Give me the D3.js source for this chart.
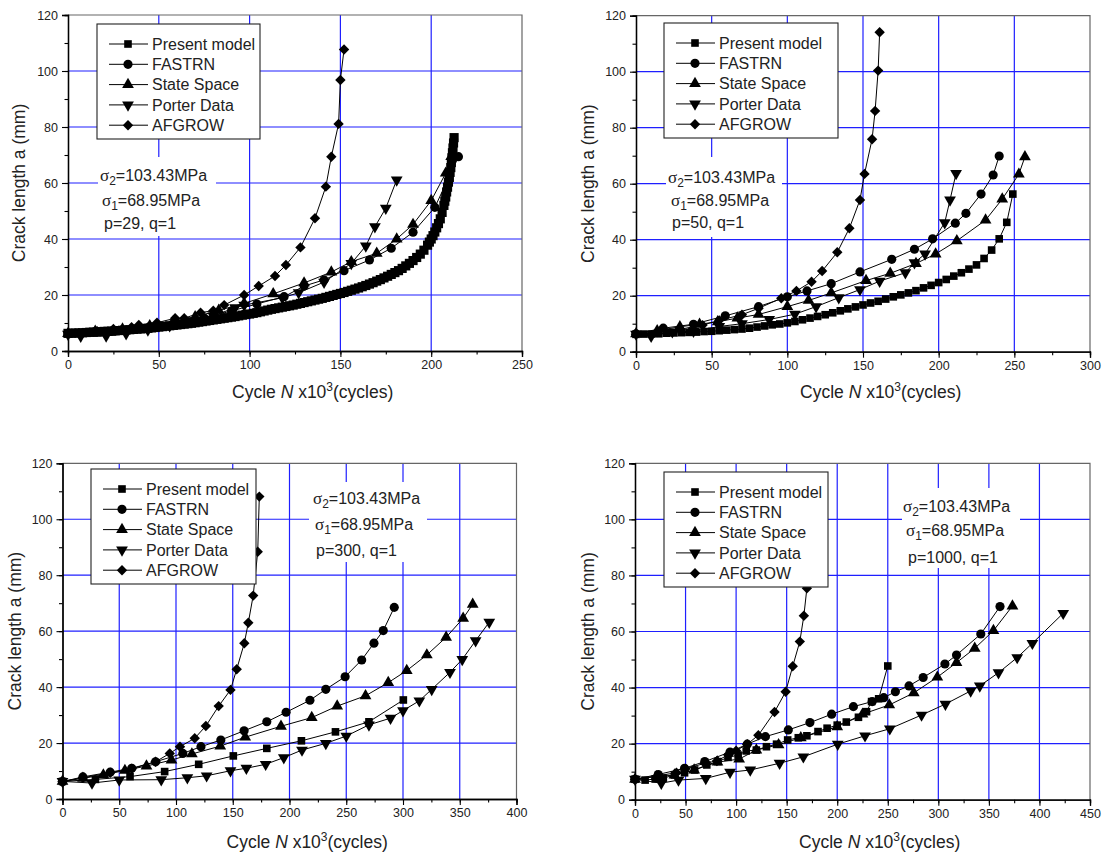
<!DOCTYPE html>
<html>
<head>
<meta charset="utf-8">
<script src="https://cdn.jsdelivr.net/npm/d3@7"></script>
<style>
  html, body { margin: 0; padding: 0; background: #fff; }
  svg { display: block; }
  text { font-family: "Liberation Sans", Arial, sans-serif; }
</style>
</head>
<body>
<svg id="chart" width="1105" height="859"></svg>
<script>
// ---- series names ----
const seriesNames = ["Present model", "FASTRN", "State Space", "Porter Data", "AFGROW"];

// ---- tick values ----
const yTicks = [0, 20, 40, 60, 80, 100, 120];
const xTicks250 = [0, 50, 100, 150, 200, 250];
const xTicks300 = [0, 50, 100, 150, 200, 250, 300];
const xTicks400 = [0, 50, 100, 150, 200, 250, 300, 350, 400];
const xTicks450 = [0, 50, 100, 150, 200, 250, 300, 350, 400, 450];

// ---- p = 29 : [N (x10^3 cycles), a (mm)] ----
const p29Present = [[0,6.3],[2,6.35],[4,6.4],[6,6.45],[8,6.5],[10,6.6],[12,6.7],[14,6.75],[16,6.8],[18,6.9],
  [20,7.0],[22,7.05],[24,7.1],[26,7.2],[28,7.3],[30,7.4],[32,7.5],[34,7.6],[36,7.7],[38,7.8],
  [40,7.9],[42,8.0],[44,8.1],[46,8.25],[48,8.4],[50,8.55],[52,8.7],[54,8.85],[56,9.0],[58,9.15],
  [60,9.3],[62,9.45],[64,9.6],[66,9.75],[68,9.9],[70,10.1],[72,10.3],[74,10.5],[76,10.7],[78,10.9],
  [80,11.1],[82,11.3],[84,11.5],[86,11.7],[88,11.9],[90,12.1],[92,12.3],[94,12.55],[96,12.8],[98,13.0],
  [100,13.2],[102,13.45],[104,13.7],[106,14.0],[108,14.3],[110,14.6],[112,14.9],[114,15.15],[116,15.4],[118,15.65],
  [120,15.9],[122,16.15],[124,16.4],[126,16.7],[128,17.0],[130,17.3],[132,17.6],[134,17.9],[136,18.2],[138,18.5],
  [140,18.8],[142,19.15],[144,19.5],[146,19.85],[148,20.2],[150,20.55],[152,20.9],[154,21.3],[156,21.7],[158,22.1],
  [160,22.5],[162,22.95],[164,23.4],[166,23.9],[168,24.4],[170,24.95],[172,25.5],[174,26.1],[176,26.7],[178,27.35],
  [180,28.0],[182,28.7],[184,29.5],[186,30.4],[188,31.3],[190,32.3],[192,33.4],[194,34.6],[196,36.0],[198,37.8],
  [199,38.9],[200,40.0],[201,41.2],[202,42.5],[203,44.0],[204,45.5],[205,47.2],[206,49.5],[207,52],[207.5,53.5],
  [208,55],[208.5,56.8],[209,58.5],[209.5,60.3],[210,62],[210.4,63.8],[210.8,65.5],[211.1,67.3],[211.4,69],[211.7,70.8],
  [212,72.5],[212.3,74.3],[212.6,76.2]];
const p29Fastrn = [[0,6.2],[15,6.8],[30,7.6],[45,8.7],[60,10.0],[75,11.8],[90,14.3],[104,16.8],[119,19.4],[130,23.2],
  [141,25.4],[152,28.7],[166,32.5],[178,36.7],[190,42.4],[202,51.3],[215,69.4]];
const p29State = [[0,6.2],[15,7.0],[30,7.8],[45,9.0],[58,10.5],[70,12.2],[83,14.5],[97,17.0],[113,20.4],[130,24.3],
  [145,28.2],[156,31.9],[170,34.9],[181,40],[190,45.2],[200,53.7],[208,63.5],[211,69.4]];
const p29Porter = [[0,6.0],[7,5.3],[21,5.4],[32,6.2],[44,7.5],[56,9.0],[68,10.8],[80,12.5],[92,15.5],[97,16.4],
  [118,19.0],[127,20.8],[141,24.6],[156,31.3],[164,37.5],[169,44.4],[175,51],[181,61.1]];
const p29Afgrow = [[1,6.3],[16,7.1],[25,7.9],[35,8.5],[39,9.3],[49,10.1],[59,11.7],[64,11.7],[73,13.7],[80,14.4],
  [86,16.4],[97,20.0],[105,23.2],[114,26.8],[120,30.7],[128,37.0],[136,47.4],[142,58.7],[145,69.4],[149,81.1],
  [150,96.8],[152,107.7]];

// ---- p = 50 ----
const p50Present = [[0,6.2],[5,6.3],[10,6.3],[15,6.4],[20,6.6],[25,6.7],[30,6.8],[35,6.9],[40,7.0],[45,7.2],
  [50,7.3],[55,7.5],[60,7.7],[65,7.9],[70,8.1],[75,8.4],[80,8.8],[85,9.2],[90,9.6],[95,9.9],
  [100,10.3],[105,10.8],[110,11.4],[115,12.0],[120,12.6],[125,13.2],[130,13.9],[135,14.6],[140,15.3],[145,16.0],
  [150,16.7],[155,17.4],[160,18.0],[165,18.8],[170,19.6],[175,20.3],[180,21.0],[185,21.8],[190,22.8],[195,23.7],
  [200,24.7],[205,25.8],[210,27.0],[215,28.2],[220,29.5],[225,31.0],[230,33.3],[235,36.3],[240,40.3],[245,46.2],
  [249,56.3]];
const p50Fastrn = [[0,6.4],[18,8.4],[38,9.8],[59,12.8],[81,16.1],[100,19.6],[113,21.7],[129,24.3],[148,28.5],[169,33],
  [184,36.6],[196,40.3],[211,45.9],[218,49.4],[228,56.3],[236,63.1],[240,69.9]];
const p50State = [[0,6.4],[14,7.5],[29,8.9],[42,9.8],[54,10.7],[67,12],[81,13.3],[100,16.1],[114,18.3],[129,21],
  [152,25.4],[168,28],[185,31.5],[198,34.9],[212,39.6],[231,47],[242,54.5],[253,63.4],[257,69.6]];
const p50Porter = [[0,6.3],[10,5.5],[24,7.1],[38,7.3],[55,9.0],[70,10.0],[88,11.5],[105,13.4],[119,16.1],[134,19.3],
  [148,22.2],[161,25.2],[178,28.2],[184,31.8],[191,34.9],[204,46.1],[207.5,54.2],[211.5,63.7]];
const p50Afgrow = [[0,6.2],[14,7.0],[29,8.0],[44,9.5],[55,11.2],[70,13.2],[81,15.5],[96,19.1],[106,21.7],[116,25],
  [123,28.8],[133,35.5],[141,44.1],[148,54.2],[151,63.5],[156,75.9],[158,86],[160,100.4],[161,114.1]];

// ---- p = 300 ----
const p300Present = [[0,6.3],[29,7.0],[59.5,8.0],[90,9.8],[120,12.4],[150.5,15.4],[180,18.1],[210.5,20.8],[240.5,24],[270,27.6],
  [300.3,35.4]];
const p300Fastrn = [[0,6.2],[18,7.9],[42,9.6],[61,11],[82,13.3],[106,16.3],[122,18.7],[139.5,21.1],[160,24.4],[180,27.6],
  [197,31],[218,35.3],[232,39.2],[249,43.7],[263.6,49.7],[274.4,55.7],[282.6,60.2],[292.3,68.5]];
const p300State = [[0,6.3],[18,7.4],[36,8.6],[55,10.2],[74,11.8],[96,13.9],[114,16.1],[139,18.9],[161,22.1],[192.5,26],
  [219.6,29.1],[242,33.2],[267,36.9],[287,41.6],[303.3,45.9],[321,51.5],[338,57.8],[353,64.6],[361.4,69.6]];
const p300Porter = [[0,6.3],[26,5.7],[50,6.8],[87,6.9],[110,7.6],[127,8.3],[148,10.1],[162,11],[179,12.4],[195,14.8],
  [211,17.5],[232,19.9],[250,22.5],[270,26.5],[289,28.9],[300,31.6],[314.4,35.1],[325.3,39.2],[341.4,45.3],[352.2,49.9],
  [364,56.6],[376,63.2]];
const p300Afgrow = [[0,6.3],[18,7.6],[42,9.4],[61,10.8],[82,13.3],[94.5,16.3],[103.5,18.7],[116.5,21.7],[126.3,26.1],[137.6,33.2],
  [148,39],[153.5,46.4],[160.2,55.7],[163.7,63],[168,72.7],[172,88.4],[173.4,108.1]];

// ---- p = 1000 ----
const p1000Present = [[0,7.3],[10,7.0],[20,7.4],[28,7.7],[39,8.8],[49,9.6],[59,10.6],[71,12.4],[82,13.6],[92,15.1],
  [102,15.9],[110,17.4],[120,17.7],[130,18.9],[140,19.8],[151,21.3],[161.5,22.1],[170,22.8],[181,24.3],[190,25.5],
  [200,26.6],[209,27.7],[221,29.4],[229,31.4],[234,35],[241,36],[250,47.7]];
const p1000Fastrn = [[0,7.3],[23,9.0],[49,11.2],[69,13.6],[94,17],[111,19.8],[129,22.5],[151.6,24.9],[173,27.5],[194.5,30.5],
  [216,33.2],[234.6,35],[246,36.4],[257.5,38.5],[271,40.6],[285,43.6],[306.5,48.4],[318,51.6],[342,59.1],[361,68.9]];
const p1000State = [[0,7.3],[21,8.2],[39,8.8],[58.5,10.6],[81.6,13.4],[103,14.5],[120,17.7],[142,19.6],[164,22.1],[200,26],
  [225,30.5],[251.5,33.8],[275.7,38.1],[299,43.7],[318,48.9],[336,54],[354.5,60.3],[373.3,69.1]];
const p1000Porter = [[0,7.3],[26,5.9],[43,7.0],[70,7.6],[94,9.8],[114,10.6],[143,13],[166.5,15.3],[200.5,19.8],[227.5,22.8],
  [252,25.3],[283.4,30.2],[307,34.1],[332,38.8],[341,40.6],[359.5,45.3],[378,50.7],[393,55.8],[423.5,66.5]];
const p1000Afgrow = [[0,7.3],[23,8.6],[41,9.6],[50,11.0],[69,13.0],[81,13.8],[92,16.0],[100,17.5],[111,19.8],[122,23],
  [138,31.3],[149,38.5],[156,47.6],[163,56.4],[167,65.6],[170,75.4],[172,90],[173.5,108]];

// ---- annotation values ----
const sigma2Text = "=103.43MPa";
const sigma1Text = "=68.95MPa";
const pqLabels = ["p=29, q=1", "p=50, q=1", "p=300, q=1", "p=1000, q=1"];

// ---- panel layout ----
const panels = [
  { left: 68,   top: 15,    width: 454, height: 336, xMax: 250, xTicks: xTicks250, presentSize: 84,
    series: [p29Present, p29Fastrn, p29State, p29Porter, p29Afgrow], pq: pqLabels[0],
    legend: { x: 97, y: 24, w: 163, h: 115 },
    note: { box: [98, 157, 118, 79], lines: [[100, 181], [102, 206], [104, 229]] },
    yTitleX: 19, xTitleY: 398 },
  { left: 636,  top: 15.7,  width: 454, height: 336, xMax: 300, xTicks: xTicks300, presentSize: 58,
    series: [p50Present, p50Fastrn, p50State, p50Porter, p50Afgrow], pq: pqLabels[1],
    legend: { x: 664, y: 23, w: 174, h: 115 },
    note: { box: [666, 157, 116, 80], lines: [[668, 183], [671, 206], [672, 228]] },
    yTitleX: 588, xTitleY: 398 },
  { left: 62.5, top: 463.3, width: 454, height: 335.7, xMax: 400, xTicks: xTicks400, presentSize: 58,
    series: [p300Present, p300Fastrn, p300State, p300Porter, p300Afgrow], pq: pqLabels[2],
    legend: { x: 91, y: 469, w: 165, h: 115 },
    note: { box: [309, 482, 118, 80], lines: [[313, 504], [315, 530], [316, 556]] },
    yTitleX: 15, xTitleY: 848 },
  { left: 635,  top: 463.3, width: 455, height: 336.4, xMax: 450, xTicks: xTicks450, presentSize: 58,
    series: [p1000Present, p1000Fastrn, p1000State, p1000Porter, p1000Afgrow], pq: pqLabels[3],
    legend: { x: 664, y: 472, w: 164, h: 115 },
    note: { box: [902, 488, 118, 80], lines: [[903, 512], [906, 536], [908, 563]] },
    yTitleX: 588, xTitleY: 848 }
];

// marker shapes per series
const symbolDefs = [
  { type: d3.symbolSquare,   size: 58, rotate: 0 },
  { type: d3.symbolCircle,   size: 66, rotate: 0 },
  { type: d3.symbolTriangle, size: 60, rotate: 0 },
  { type: d3.symbolTriangle, size: 60, rotate: 180 },
  { type: d3.symbolSquare,   size: 54, rotate: 45 }
];
const gridColor = "#1f1fff";
const svg = d3.select("#chart");

panels.forEach((p) => {
  const g = svg.append("g");
  const x = d3.scaleLinear().domain([0, p.xMax]).range([p.left, p.left + p.width]);
  const y = d3.scaleLinear().domain([0, 120]).range([p.top + p.height, p.top]);

  // grid lines
  const grid = g.append("g");
  p.xTicks.filter(v => v > 0 && v < p.xMax).forEach(v => {
    grid.append("line").attr("x1", x(v)).attr("x2", x(v)).attr("y1", y(0)).attr("y2", y(120))
      .attr("stroke", gridColor).attr("stroke-width", 1.2);
  });
  yTicks.filter(v => v > 0 && v < 120).forEach(v => {
    grid.append("line").attr("x1", x(0)).attr("x2", x(p.xMax)).attr("y1", y(v)).attr("y2", y(v))
      .attr("stroke", gridColor).attr("stroke-width", 1.2);
  });

  // frame (top/right)
  g.append("path")
    .attr("d", `M${x(0)},${y(120)}H${x(p.xMax)}V${y(0)}`)
    .attr("fill", "none").attr("stroke", "#666").attr("stroke-width", 1.2);

  // annotation backdrop
  const nb = p.note.box;
  g.append("rect").attr("x", nb[0]).attr("y", nb[1]).attr("width", nb[2]).attr("height", nb[3]).attr("fill", "#fff");

  // axes: minor then major ticks
  const minorX = d3.range(0, p.xMax + 0.1, 25);
  const minorY = d3.range(0, 120.1, 10);
  const axes = [
    [d3.axisBottom(x).tickValues(minorX).tickSize(3.5).tickFormat(""), `translate(0,${y(0)})`],
    [d3.axisBottom(x).tickValues(p.xTicks).tickSize(6).tickPadding(3).tickFormat(d3.format("d")), `translate(0,${y(0)})`],
    [d3.axisLeft(y).tickValues(minorY).tickSize(3.5).tickFormat(""), `translate(${x(0)},0)`],
    [d3.axisLeft(y).tickValues(yTicks).tickSize(6).tickPadding(4).tickFormat(d3.format("d")), `translate(${x(0)},0)`]
  ];
  axes.forEach(([ax, tr]) => {
    const a = g.append("g").attr("transform", tr).call(ax);
    a.select(".domain").attr("stroke", "#000").attr("stroke-width", 1.3);
    a.selectAll("line").attr("stroke", "#000").attr("stroke-width", 1.1);
    a.selectAll("text").attr("font-size", 12.5).attr("fill", "#222")
      .attr("font-family", "'Liberation Sans', Arial, sans-serif");
  });

  // series lines + markers
  const line = d3.line().x(d => x(d[0])).y(d => y(d[1]));
  p.series.forEach((data) => {
    g.append("path").datum(data).attr("d", line)
      .attr("fill", "none").attr("stroke", "#000").attr("stroke-width", 1);
  });
  p.series.forEach((data, si) => {
    const s = symbolDefs[si];
    const size = si === 0 ? p.presentSize : s.size;
    const sym = d3.symbol().type(s.type).size(size);
    g.append("g").selectAll("path").data(data).join("path")
      .attr("d", sym)
      .attr("transform", d => `translate(${x(d[0])},${y(d[1])}) rotate(${s.rotate})`)
      .attr("fill", "#000");
  });

  // annotation text
  const nl = p.note.lines;
  const sig = (pos, sub, rest) => {
    const t = g.append("text").attr("x", pos[0]).attr("y", pos[1]).attr("font-size", 16).attr("fill", "#222");
    t.append("tspan").attr("font-family", "'Liberation Serif', 'Times New Roman', serif").attr("font-size", 17).text("σ");
    t.append("tspan").attr("font-size", 12).attr("dy", 4).text(sub);
    t.append("tspan").attr("dy", -4).text(rest);
  };
  sig(nl[0], "2", sigma2Text);
  sig(nl[1], "1", sigma1Text);
  g.append("text").attr("x", nl[2][0]).attr("y", nl[2][1]).attr("font-size", 16).attr("fill", "#222").text(p.pq);

  // legend
  const L = p.legend;
  const lg = g.append("g");
  lg.append("rect").attr("x", L.x).attr("y", L.y).attr("width", L.w).attr("height", L.h)
    .attr("fill", "#fff").attr("stroke", "#222").attr("stroke-width", 1.1);
  seriesNames.forEach((name, si) => {
    const cy = L.y + 20 + si * 20.3;
    lg.append("line").attr("x1", L.x + 12).attr("x2", L.x + 51).attr("y1", cy).attr("y2", cy)
      .attr("stroke", "#000").attr("stroke-width", 1);
    const s = symbolDefs[si];
    lg.append("path").attr("d", d3.symbol().type(s.type).size(s.size)())
      .attr("transform", `translate(${L.x + 31},${cy}) rotate(${s.rotate})`).attr("fill", "#000");
    lg.append("text").attr("x", L.x + 55).attr("y", cy).attr("dy", "0.36em")
      .attr("font-size", 16).attr("fill", "#222").text(name);
  });

  // axis titles
  const cyMid = p.top + p.height / 2;
  svg.append("text")
    .attr("transform", `translate(${p.yTitleX + 6},${cyMid}) rotate(-90)`)
    .attr("text-anchor", "middle").attr("font-size", 17.5).attr("fill", "#222")
    .text("Crack length a (mm)");
  const xt = svg.append("text").attr("x", p.left + 164).attr("y", p.xTitleY)
    .attr("font-size", 17.5).attr("fill", "#222");
  xt.append("tspan").text("Cycle ");
  xt.append("tspan").attr("font-style", "italic").text("N");
  xt.append("tspan").text(" x10");
  xt.append("tspan").attr("font-size", 12).attr("dy", -7).text("3");
  xt.append("tspan").attr("dy", 7).text("(cycles)");
});
</script>
</body>
</html>
